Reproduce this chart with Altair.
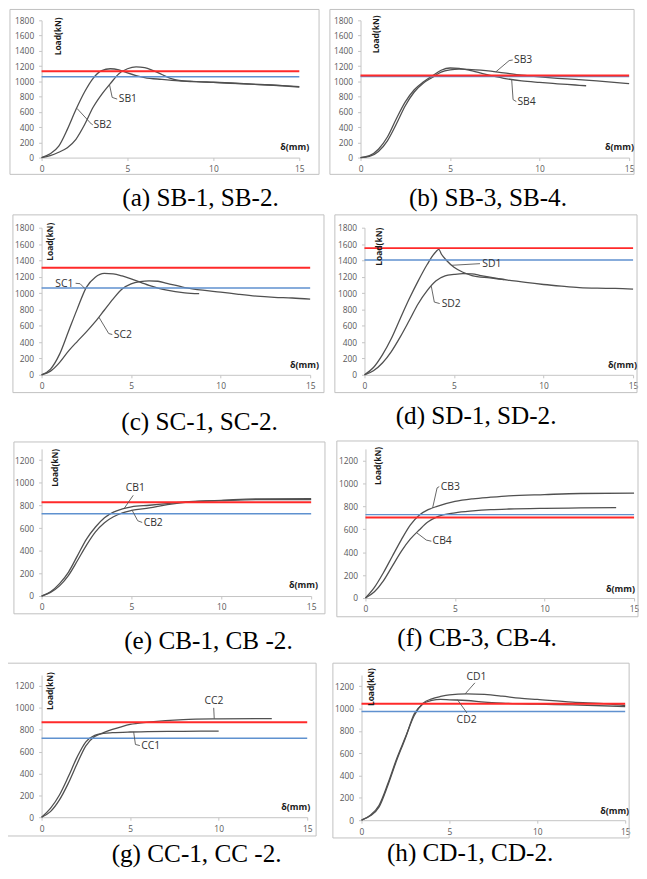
import altair as alt
import pandas as pd

# ---------------- data ----------------
X_TICKS = [0, 5, 10, 15]
Y_TICKS_S = [0, 200, 400, 600, 800, 1000, 1200, 1400, 1600, 1800]
Y_TICKS_C = [0, 200, 400, 600, 800, 1000, 1200]

# (a)
SB1_x = [0, 0.5, 1, 1.5, 2, 2.5, 3, 3.5, 4, 4.5, 5, 5.5, 6, 6.5, 7, 7.5, 8, 9, 10, 11, 12, 13, 14, 15]
SB1_y = [0, 25, 70, 130, 240, 430, 660, 830, 970, 1100, 1165, 1190, 1180, 1140, 1090, 1040, 1012, 997, 988, 978, 966, 955, 942, 925]
SB2_x = [0, 0.5, 1, 1.5, 2, 2.5, 3, 3.5, 4, 4.5, 5, 5.5, 6, 7, 8, 9, 10, 11, 12, 13, 14, 15]
SB2_y = [0, 50, 150, 370, 630, 860, 1040, 1140, 1165, 1150, 1110, 1075, 1050, 1025, 1005, 995, 985, 975, 965, 955, 945, 932]
# (b)
SB3_x = [0, 0.5, 1, 1.5, 2, 2.5, 3, 3.5, 4, 4.5, 5, 5.5, 6, 7, 8, 9, 10, 11, 12, 13, 14, 15]
SB3_y = [0, 15, 80, 220, 440, 680, 860, 975, 1050, 1120, 1150, 1160, 1158, 1140, 1110, 1080, 1058, 1040, 1025, 1008, 990, 970]
SB4_x = [0, 0.5, 1, 1.5, 2, 2.5, 3, 3.5, 4, 4.5, 5, 5.5, 6, 7, 8, 9, 10, 11, 12, 12.6]
SB4_y = [0, 25, 110, 270, 510, 730, 890, 990, 1070, 1145, 1175, 1170, 1150, 1090, 1040, 1005, 985, 968, 952, 942]
# (c)
SC1_x = [0, 0.5, 1, 1.5, 2, 2.5, 3, 3.5, 4, 4.5, 5, 6, 7, 8, 8.8]
SC1_y = [0, 70, 250, 530, 810, 1070, 1195, 1240, 1235, 1210, 1175, 1095, 1035, 1003, 993]
SC2_x = [0, 0.5, 1, 1.5, 2, 2.5, 3, 3.5, 4, 4.5, 5, 5.5, 6, 6.5, 7, 8, 9, 10, 11, 12, 13, 14, 15]
SC2_y = [0, 45, 150, 290, 410, 525, 650, 790, 930, 1050, 1112, 1140, 1150, 1145, 1120, 1068, 1035, 1012, 985, 962, 948, 940, 925]
# (d)
SD1_x = [0, 0.5, 1, 1.5, 2, 2.5, 3, 3.5, 4, 4.15, 4.3, 4.6, 5, 5.5, 6, 7, 8, 9, 10, 11, 12, 13, 14, 15]
SD1_y = [0, 90, 245, 445, 690, 930, 1150, 1350, 1510, 1535, 1475, 1395, 1315, 1255, 1215, 1185, 1160, 1130, 1105, 1085, 1068, 1060, 1057, 1048]
SD2_x = [0, 0.5, 1, 1.5, 2, 2.5, 3, 3.5, 4, 4.5, 5, 5.5, 6, 6.5, 7, 7.8]
SD2_y = [0, 50, 145, 285, 465, 665, 870, 1030, 1150, 1210, 1228, 1238, 1235, 1215, 1195, 1165]
# (e)
CB1_x = [0, 0.5, 1, 1.5, 2, 2.5, 3, 3.5, 4, 4.5, 5, 6, 7, 8, 9, 10, 12, 15]
CB1_y = [0, 38, 110, 212, 357, 503, 610, 692, 741, 770, 788, 802, 817, 831, 840, 846, 858, 860]
CB2_x = [0, 0.5, 1, 1.5, 2, 2.5, 3, 3.5, 4, 4.5, 5, 6, 7, 8, 9, 10, 12, 15]
CB2_y = [0, 32, 90, 183, 314, 450, 567, 648, 700, 735, 756, 779, 808, 828, 837, 843, 852, 852]
# (f)
CB3_x = [0, 0.5, 1, 1.5, 2, 2.5, 3, 3.5, 4, 5, 6, 7, 8, 10, 12, 15]
CB3_y = [0, 92, 220, 364, 507, 636, 722, 770, 799, 842, 865, 879, 891, 902, 911, 914]
CB4_x = [0, 0.5, 1, 1.5, 2, 2.5, 3, 3.5, 4, 5, 6, 7, 8, 10, 12, 14]
CB4_y = [0, 54, 149, 278, 407, 513, 593, 664, 707, 742, 759, 770, 776, 782, 785, 788]
# (g)
CC1_x = [0, 0.5, 1, 1.5, 2, 2.5, 3, 3.5, 4, 5, 6, 8, 10]
CC1_y = [0, 81, 201, 367, 547, 689, 749, 767, 773, 779, 782, 785, 788]
CC2_x = [0, 0.5, 1, 1.5, 2, 2.5, 3, 3.5, 4, 4.5, 5, 6, 7, 8, 10, 13]
CC2_y = [0, 51, 156, 307, 487, 653, 737, 773, 803, 827, 848, 869, 884, 893, 899, 902]
# (h)
CD1_x = [0, 0.5, 1, 1.5, 2, 2.5, 3, 3.5, 4, 4.5, 5, 6, 7, 8, 9, 10, 12, 14, 15]
CD1_y = [0, 45, 134, 328, 551, 744, 938, 1048, 1087, 1108, 1123, 1132, 1126, 1111, 1093, 1081, 1057, 1042, 1027]
CD2_x = [0, 0.5, 1, 1.5, 2, 2.5, 3, 3.5, 4, 4.5, 5, 6, 7, 8, 10, 12, 15]
CD2_y = [0, 39, 119, 313, 536, 736, 953, 1042, 1072, 1081, 1078, 1072, 1057, 1048, 1039, 1033, 1018]

# horizontal reference loads (a)..(h)
RED_LOAD = [1133, 1077, 1310, 1550, 828, 702, 869, 1042]
BLUE_LOAD = [1060, 1062, 1063, 1405, 727, 727, 722, 974]

CAPTIONS = ["(a) SB-1, SB-2.", "(b) SB-3, SB-4.", "(c) SC-1, SC-2.", "(d) SD-1, SD-2.",
            "(e) CB-1, CB -2.", "(f) CB-3, CB-4.", "(g) CC-1, CC -2.", "(h) CD-1, CD-2."]
Y_TITLE = "Load(kN)"
X_TITLE = "δ(mm)"

# curve labels and their leader lines
LABEL_TEXT = [["SB1", "SB2"], ["SB3", "SB4"], ["SC1", "SC2"], ["SD1", "SD2"],
              ["CB1", "CB2"], ["CB3", "CB4"], ["CC2", "CC1"], ["CD1", "CD2"]]
LABEL_X = [[4.49, 3.02], [8.57, 8.76], [0.77, 4.03], [6.58, 4.31],
           [4.68, 5.68], [4.2, 3.75], [9.2, 5.63], [5.97, 5.41]]
LABEL_Y = [[767, 427], [1280, 731], [1115, 491], [1355, 870],
           [953, 648], [971, 493], [1059, 653], [1280, 893]]
LEADER_X = [[[3.95, 4.11, 4.4], [2.06, 2.9, 2.98]],
            [[7.56, 8.3, 8.5], [8.44, 8.52, 8.7]],
            [[1.9, 2.15, 2.42], [3.2, 3.75, 3.95]],
            [[4.86, 6.45], [3.73, 3.9, 4.2]],
            [[4.6, 5.1], [5.04, 5.35, 5.6]],
            [[3.75, 4.0, 4.12], [2.85, 3.4, 3.68]],
            [[9.72, 9.75], [5.2, 5.3, 5.55]],
            [[5.9, 6.45], [5.45, 6.0]]]
LEADER_Y = [[[960, 789, 767], [645, 440, 430]],
            [[1125, 1272, 1280], [1025, 760, 735]],
            [[1120, 1115, 1055], [706, 505, 493]],
            [[1340, 1360], [1085, 890, 872]],
            [[775, 890], [757, 665, 650]],
            [[785, 960, 971], [570, 505, 495]],
            [[1000, 900], [780, 665, 655]],
            [[1132, 1230], [1080, 960]]]

CURVES = [[("SB1", SB1_x, SB1_y), ("SB2", SB2_x, SB2_y)],
          [("SB3", SB3_x, SB3_y), ("SB4", SB4_x, SB4_y)],
          [("SC1", SC1_x, SC1_y), ("SC2", SC2_x, SC2_y)],
          [("SD1", SD1_x, SD1_y), ("SD2", SD2_x, SD2_y)],
          [("CB1", CB1_x, CB1_y), ("CB2", CB2_x, CB2_y)],
          [("CB3", CB3_x, CB3_y), ("CB4", CB4_x, CB4_y)],
          [("CC1", CC1_x, CC1_y), ("CC2", CC2_x, CC2_y)],
          [("CD1", CD1_x, CD1_y), ("CD2", CD2_x, CD2_y)]]

# ---------------- layout / style ----------------
SANS = "Open Sans"
AXIS_C = "#c4c4c4"
LABEL_C = "#595959"
FRAME_C = "#c0c0c0"
CURVE_C = "#505050"
RED_C = "#ff2a2a"
BLUE_C = "#5f91cf"

GEOM = [
    dict(W=261, H=139, ymax=1800, ticks=Y_TICKS_S, fl=-32, fr=20, ft=-11, fb=17, sp=196, lx=12.5, ly=-3, dx=10, dy=-6, cx=161, cy=180),
    dict(W=272, H=139, ymax=1800, ticks=Y_TICKS_S, fl=-31, fr=5, ft=-11, fb=17, sp=196, lx=12, ly=-5, dx=5, dy=-6, cx=129, cy=180),
    dict(W=272, H=149, ymax=1800, ticks=Y_TICKS_S, fl=-29, fr=14, ft=-13, fb=18, sp=215, lx=5, ly=-5, dx=9, dy=-5, cx=160, cy=197),
    dict(W=272, H=149, ymax=1800, ticks=Y_TICKS_S, fl=-30, fr=4, ft=-13, fb=18, sp=215, lx=11, ly=0, dx=4, dy=-5, cx=113, cy=191),
    dict(W=273, H=149, ymax=1300, ticks=Y_TICKS_C, fl=-28, fr=14, ft=-7, fb=18, sp=216, lx=10, ly=0, dx=7, dy=-6, cx=169, cy=195),
    dict(W=272, H=151, ymax=1300, ticks=Y_TICKS_C, fl=-29, fr=4, ft=-8, fb=19, sp=216, lx=9, ly=-2, dx=1, dy=-4.5, cx=113, cy=192),
    dict(W=269, H=144, ymax=1300, ticks=Y_TICKS_C, fl=-37, fr=9, ft=-12, fb=19, sp=None, lx=5, ly=-3, dx=3, dy=-5, cx=157, cy=181),
    dict(W=267, H=147, ymax=1300, ticks=Y_TICKS_C, fl=-29, fr=4, ft=-12, fb=18, sp=None, lx=6, ly=-7, dx=4, dy=-4, cx=110, cy=180),
]
ROW_SPACING = [9, 9, 10, 15]
CAPTION_SIZE = 25.5


def one_row():
    return alt.Data(values=[{"k": 1}])


def make_panel(i):
    g = GEOM[i]
    W, H = g["W"], g["H"]
    xaxis = alt.Axis(values=X_TICKS, title=None, grid=False, labelFlush=False,
                     labelFont=SANS, labelFontSize=8.5, labelColor=LABEL_C, labelPadding=4,
                     domainColor=AXIS_C, tickColor=AXIS_C, tickSize=3)
    yaxis = alt.Axis(values=g["ticks"], title=None, grid=False, format="d",
                     labelFont=SANS, labelFontSize=8.5, labelColor=LABEL_C, labelPadding=5,
                     domainColor=AXIS_C, tickColor=AXIS_C, tickSize=3)
    X = alt.X("x:Q", scale=alt.Scale(domain=[0, 15], nice=False, zero=False), axis=xaxis)
    Y = alt.Y("y:Q", scale=alt.Scale(domain=[0, g["ymax"]], nice=False), axis=yaxis)

    rows = []
    for name, xs, ys in CURVES[i]:
        for k, (xv, yv) in enumerate(zip(xs, ys)):
            rows.append({"s": name, "i": k, "x": xv, "y": yv})
    cdf = pd.DataFrame(rows)

    hdf = pd.DataFrame({"x": [0, 0], "x2": [15, 15], "y": [BLUE_LOAD[i], RED_LOAD[i]],
                        "c": [BLUE_C, RED_C], "w": [1.5, 2.0], "o": [0, 1]})

    lrows = []
    for j, (lx, ly) in enumerate(zip(LEADER_X[i], LEADER_Y[i])):
        for k, (xv, yv) in enumerate(zip(lx, ly)):
            lrows.append({"id": j, "i": k, "x": xv, "y": yv})
    ldf = pd.DataFrame(lrows)

    tdf = pd.DataFrame({"t": LABEL_TEXT[i], "x": LABEL_X[i], "y": LABEL_Y[i]})

    frame = alt.Chart(one_row()).mark_rect(
        filled=False, stroke=FRAME_C, strokeWidth=1).encode(
        x=alt.value(g["fl"]), x2=alt.value(W + g["fr"]),
        y=alt.value(g["ft"]), y2=alt.value(H + g["fb"]))

    curves = alt.Chart(cdf).mark_line(interpolate="monotone", color=CURVE_C, strokeWidth=1.3).encode(
        x=X, y=Y, detail="s:N", order="i:Q")

    hlines = alt.Chart(hdf).mark_rule().encode(
        x=X, x2=alt.X2("x2"), y=Y,
        color=alt.Color("c:N", scale=None),
        strokeWidth=alt.StrokeWidth("w:Q", scale=None),
        order="o:Q")

    leaders = alt.Chart(ldf).mark_line(color="#555555", strokeWidth=0.9).encode(
        x=X, y=Y, detail="id:N", order="i:Q")

    labels = alt.Chart(tdf).mark_text(align="left", baseline="middle", font=SANS,
                                      fontSize=10.5, color="#333333").encode(x=X, y=Y, text="t:N")

    ytitle = alt.Chart(alt.Data(values=[{"t": Y_TITLE}])).mark_text(
        angle=270, align="right", baseline="top", font=SANS, fontSize=8.5,
        fontWeight="bold", color="#1a1a1a").encode(
        x=alt.value(g["lx"]), y=alt.value(g["ly"]), text="t:N")

    xtitle = alt.Chart(alt.Data(values=[{"t": X_TITLE}])).mark_text(
        align="right", baseline="bottom", font=SANS, fontSize=9,
        fontWeight="bold", color="#1a1a1a").encode(
        x=alt.value(W + g["dx"]), y=alt.value(H + g["dy"]), text="t:N")

    caption = alt.Chart(alt.Data(values=[{"t": CAPTIONS[i]}])).mark_text(
        font="Liberation Serif", fontSize=CAPTION_SIZE, align="center", baseline="middle", color="black").encode(
        x=alt.value(g["cx"]), y=alt.value(g["cy"]), text="t:N")

    layers = [frame]
    if g["sp"] is not None:
        spacer = alt.Chart(one_row()).mark_rect(opacity=0).encode(
            x=alt.value(g["fl"] + 2), x2=alt.value(g["fl"] + 3),
            y=alt.value(g["ft"]), y2=alt.value(g["sp"]))
        layers.append(spacer)
    layers += [curves, hlines, leaders, labels, ytitle, xtitle, caption]
    return alt.layer(*layers).properties(width=W, height=H)


panels = [make_panel(i) for i in range(8)]
rows = [alt.hconcat(panels[2 * r], panels[2 * r + 1], spacing=ROW_SPACING[r]) for r in range(4)]
chart = alt.vconcat(*rows, spacing=0).properties(
    padding={"left": -4, "top": -5, "right": 0, "bottom": 0}, background="white"
).configure_view(strokeWidth=0)

chart.save("out.html", embed_options={"renderer": "svg", "actions": False})
